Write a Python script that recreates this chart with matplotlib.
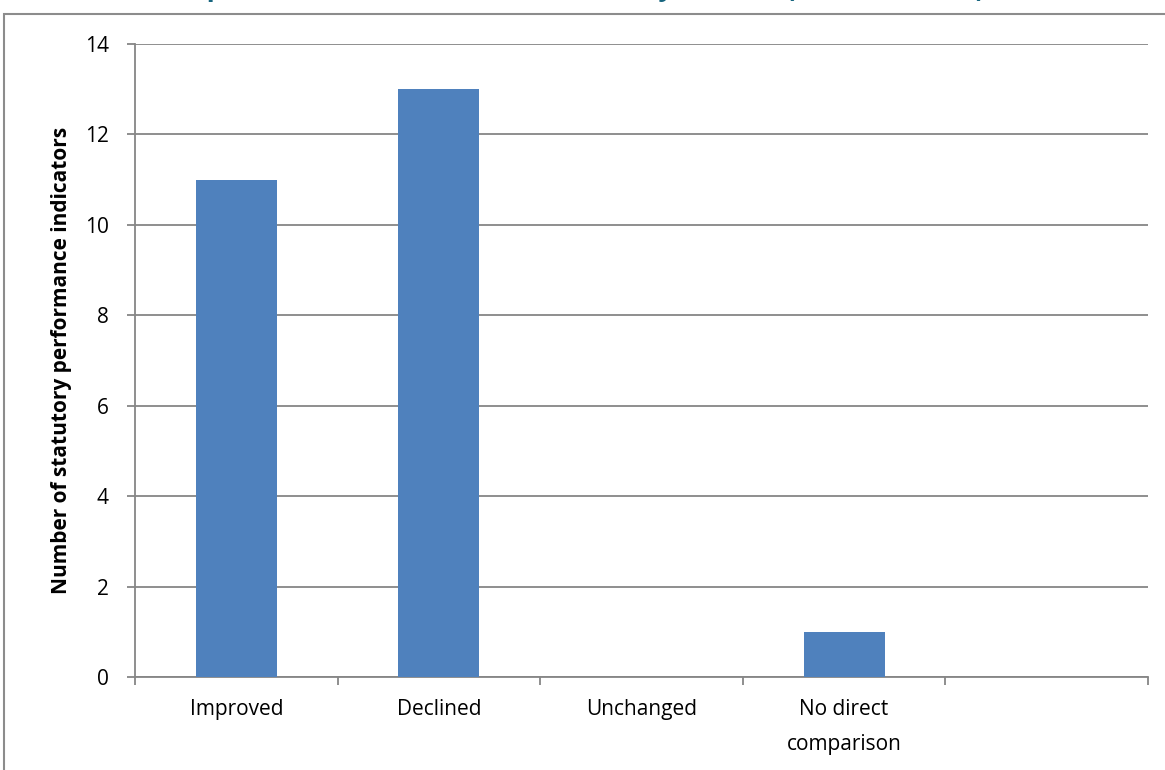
import matplotlib.pyplot as plt
from matplotlib.patches import Rectangle
import numpy as np

"""
data
"""
categories = ['Improved', 'Declined', 'Unchanged', 'No direct\ncomparison', '']
values = [11, 13, 0, 1, np.nan]
yticks = [0, 2, 4, 6, 8, 10, 12, 14]
title_text = 'Improvement in indicators since last year now (2012/13-13/14)'
ylabel_text = 'Number of statutory performance indicators'

grey = '#868686'
bar_colour = '#4F81BD'

plt.rcParams['font.family'] = ['Open Sans', 'DejaVu Sans']

fig = plt.figure(figsize=(11.65, 7.7), dpi=100)
ax = fig.add_axes([135/1165, 93/770, 1013/1165, 633/770])

x = np.arange(len(categories))
ax.bar(x, values, width=0.4, color=bar_colour, zorder=3)

ax.set_xlim(-0.5, len(categories) - 0.5)
ax.set_ylim(0, 14)
ax.set_yticks(yticks)
ax.set_yticklabels([str(v) for v in yticks], fontsize=15)
ax.yaxis.grid(True, color=grey, linewidth=1.3, zorder=0)

# labels in the middle of each category, tick marks on the boundaries
ax.set_xticks(x)
ax.set_xticklabels(categories, fontsize=15, linespacing=1.85)
ax.set_xticks(np.arange(-0.5, len(categories)), minor=True)
ax.tick_params(axis='x', which='major', length=0, pad=16)
ax.tick_params(axis='x', which='minor', length=6, color=grey, width=1.3)
ax.tick_params(axis='y', length=6, color=grey, width=1.3, pad=13)

for s in ['top', 'right']:
    ax.spines[s].set_visible(False)
for s in ['left', 'bottom']:
    ax.spines[s].set_color(grey)
    ax.spines[s].set_linewidth(1.3)

ax.set_ylabel(ylabel_text, fontsize=15, fontweight='bold')
ax.yaxis.set_label_coords((72 - 135) / 1013, 0.5)

# title mostly cut off at the top of the image
fig.text(172/1165, 1 + 4/770, title_text, fontsize=19, fontweight='bold',
         color='#17657F', ha='left', va='baseline')

# chart border
fig.patches.append(Rectangle((4/1165, -0.1), 1.2, 1.1 - 14/770,
                             transform=fig.transFigure, fill=False,
                             edgecolor='#8c8c8c', linewidth=1.5))

fig.savefig('out.png', dpi=100)
